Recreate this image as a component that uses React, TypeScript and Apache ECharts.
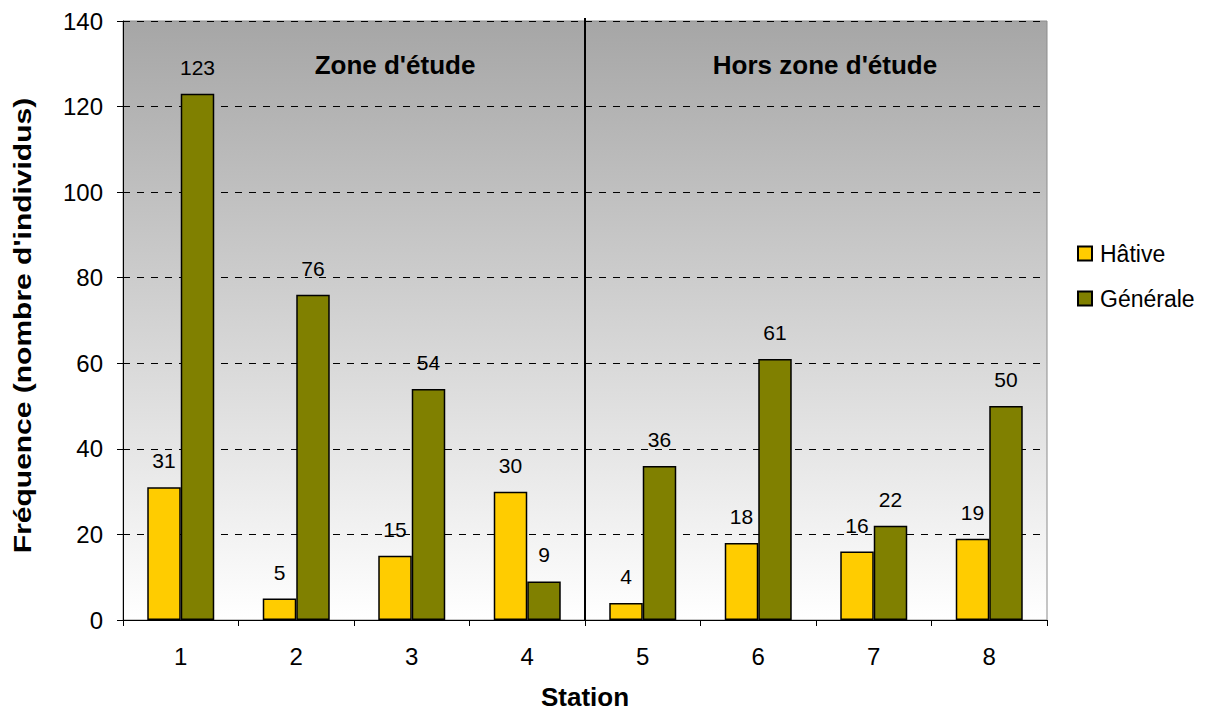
import React, { useEffect, useRef } from "react";
import * as echarts from "echarts";

const stations = ["1", "2", "3", "4", "5", "6", "7", "8"];
const hative = [31, 5, 15, 30, 4, 18, 16, 19];
const generale = [123, 76, 54, 9, 36, 61, 22, 50];
const zoneLabels = ["Zone d'étude", "Hors zone d'étude"];
const yTitle = "Fréquence (nombre d'individus)";

const FONT = "'Liberation Sans', Arial, sans-serif";

export default function App() {
  const ref = useRef<HTMLDivElement>(null);
  useEffect(() => {
    const chart = echarts.init(ref.current!, null, { renderer: "svg" });
    const labelStyle = {
      show: true,
      position: "top" as const,
      distance: 16,
      color: "#000",
      fontSize: 21,
      fontFamily: FONT,
    };
    chart.setOption({
      animation: false,
      backgroundColor: "#fff",
      textStyle: { fontFamily: FONT },
      grid: {
        left: 123,
        top: 21,
        width: 924,
        height: 599,
        outerBoundsMode: "none",
        containLabel: false,
        show: true,
        borderColor: "#8c8c8c",
        borderWidth: 1,
        backgroundColor: new echarts.graphic.LinearGradient(0, 0, 0, 1, [
          { offset: 0, color: "#a6a6a6" },
          { offset: 1, color: "#ffffff" },
        ]),
      },
      legend: {
        orient: "vertical",
        left: 1072,
        top: 237,
        itemWidth: 14,
        itemHeight: 14,
        itemGap: 22,
        textStyle: { fontSize: 23, fontFamily: FONT, color: "#000", padding: [0, 0, 0, 3] },
        data: [
          { name: "Hâtive", icon: "rect" },
          { name: "Générale", icon: "rect" },
        ],
      },
      xAxis: {
        type: "category",
        data: stations,
        name: "Station",
        nameLocation: "middle",
        nameGap: 64,
        nameTextStyle: { fontSize: 26, lineHeight: 26, fontWeight: "bold", color: "#000", fontFamily: FONT },
        axisLine: { lineStyle: { color: "#000", width: 1 } },
        axisTick: { show: true, length: 6, inside: false, lineStyle: { color: "#000" } },
        axisLabel: { fontSize: 24, color: "#000", margin: 24, fontFamily: FONT },
      },
      yAxis: {
        type: "value",
        min: 0,
        max: 140,
        interval: 20,
        axisLine: { show: true, lineStyle: { color: "#000", width: 1 } },
        axisTick: { show: true, length: 6, lineStyle: { color: "#000" } },
        axisLabel: { fontSize: 24, color: "#000", margin: 20, fontFamily: FONT },
        splitLine: { show: true, lineStyle: { color: "#000", type: [7, 7], width: 1 } },
      },
      series: [
        {
          name: "Hâtive",
          type: "bar",
          data: hative,
          barGap: "0%",
          barCategoryGap: "42%",
          itemStyle: { color: "#FFCC00", borderColor: "#000", borderWidth: 1.5 },
          label: labelStyle,
        },
        {
          name: "Générale",
          type: "bar",
          data: generale,
          barGap: "0%",
          barCategoryGap: "42%",
          itemStyle: { color: "#808000", borderColor: "#000", borderWidth: 1.5 },
          label: labelStyle,
        },
      ],
    });
    const x3 = chart.convertToPixel({ xAxisIndex: 0 }, 3) as number;
    const x4 = chart.convertToPixel({ xAxisIndex: 0 }, 4) as number;
    const sepX = (x3 + x4) / 2;
    const topY = chart.convertToPixel({ yAxisIndex: 0 }, 140) as number;
    const botY = chart.convertToPixel({ yAxisIndex: 0 }, 0) as number;
    chart.setOption({
      graphic: [
        {
          type: "line",
          shape: { x1: sepX, y1: topY - 3, x2: sepX, y2: botY },
          style: { stroke: "#000", lineWidth: 2 },
          z: 10,
        },
        {
          type: "text",
          x: 395,
          y: 65,
          style: {
            text: zoneLabels[0],
            fontSize: 26,
            fontWeight: "bold",
            fontFamily: FONT,
            fill: "#000",
            align: "center",
            verticalAlign: "middle",
          },
          z: 10,
        },
        {
          type: "text",
          x: 825,
          y: 65,
          style: {
            text: zoneLabels[1],
            fontSize: 26,
            fontWeight: "bold",
            fontFamily: FONT,
            fill: "#000",
            align: "center",
            verticalAlign: "middle",
          },
          z: 10,
        },
        {
          type: "text",
          x: 23,
          y: (topY + botY) / 2 + 5,
          rotation: Math.PI / 2,
          scaleX: 1.25,
          style: {
            text: yTitle,
            fontSize: 24,
            fontWeight: "bold",
            fontFamily: FONT,
            fill: "#000",
            align: "center",
            verticalAlign: "middle",
          },
          z: 10,
        },
      ],
    });
    return () => chart.dispose();
  }, []);
  return (
    <div
      ref={ref}
      style={{ position: "fixed", left: 0, top: 0, width: 1213, height: 713 }}
    />
  );
}
